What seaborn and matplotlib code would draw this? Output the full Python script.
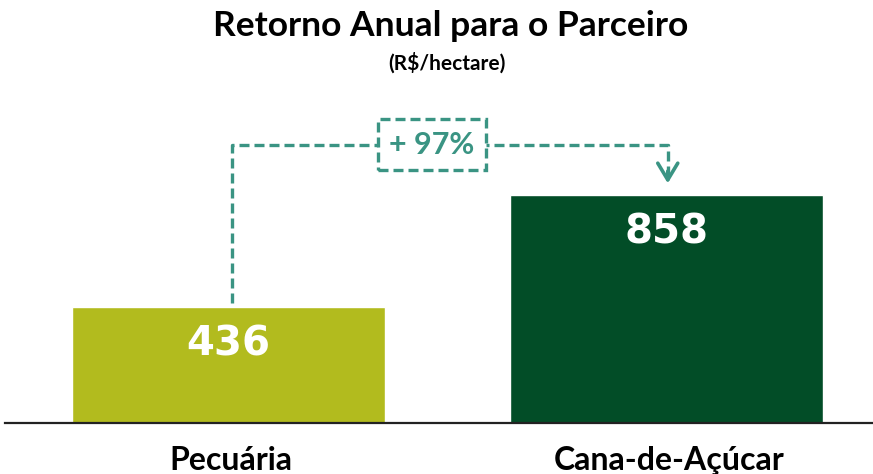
import matplotlib
matplotlib.use("Agg")
import matplotlib.pyplot as plt
import seaborn as sns
import pandas as pd

# dados
categorias = ["Pecuária", "Cana-de-Açúcar"]
valores = [436, 858]
cores = ["#B2BB1E", "#024D27"]
variacao = "+ 97%"

df = pd.DataFrame({"categoria": categorias, "valor": valores})

sns.set_theme(style="white")
plt.rcParams["font.family"] = ["Lato", "DejaVu Sans"]

fig = plt.figure(figsize=(8.73, 4.74), dpi=100)
ax = fig.add_axes([5 / 873, 51 / 474, 868 / 873, 323 / 474])

sns.barplot(data=df, x="categoria", y="valor", hue="categoria",
            palette=cores, width=0.715, legend=False, ax=ax, saturation=1)

ax.set_xlim(-0.51, 1.4715)
ax.set_ylim(0, 1215)
ax.set_xlabel("")
ax.set_ylabel("")
ax.set_yticks([])
ax.set_xticks([])
for s in ["top", "right", "left"]:
    ax.spines[s].set_visible(False)
ax.spines["bottom"].set_color("#222222")
ax.spines["bottom"].set_linewidth(1.6)

# rótulos de valor
for i, v in enumerate(valores):
    ax.text(i, v - 140, str(v), ha="center", va="center", color="white",
            fontsize=29, fontweight="bold", family="DejaVu Sans")

# categorias
for i, c in enumerate(categorias):
    ax.text(i + 0.005, -140, c, ha="center", va="center", color="black",
            fontsize=23, fontweight="bold", clip_on=False)

# conector tracejado
teal = "#3A9483"
y_top = max(valores) * 1.22
x0, x1 = 0.008, 1.003
ax.plot([x0, x0, x1, x1], [valores[0] + 15, y_top, y_top, max(valores) + 70],
        ls=(0, (3, 1.5)), color=teal, lw=2.4, clip_on=False)
ax.annotate("", xy=(x1, max(valores) + 33), xytext=(x1, max(valores) + 100),
            arrowprops=dict(arrowstyle="->,head_length=1.0,head_width=0.6",
                            color=teal, lw=2.6))
ax.text(0.465, y_top, variacao, ha="center", va="center", color=teal,
        fontsize=22, fontweight="bold",
        bbox=dict(boxstyle="square,pad=0.38", fc="white", ec=teal,
                  ls=(0, (3, 1.5)), lw=2.4))

# títulos
fig.text(0.516, 0.945, "Retorno Anual para o Parceiro", ha="center", va="center",
         fontsize=25.5, fontweight="bold", color="black")
fig.text(0.512, 0.867, "(R$/hectare)", ha="center", va="center",
         fontsize=15, fontweight="bold", color="black")

fig.savefig("out.png", dpi=100)
